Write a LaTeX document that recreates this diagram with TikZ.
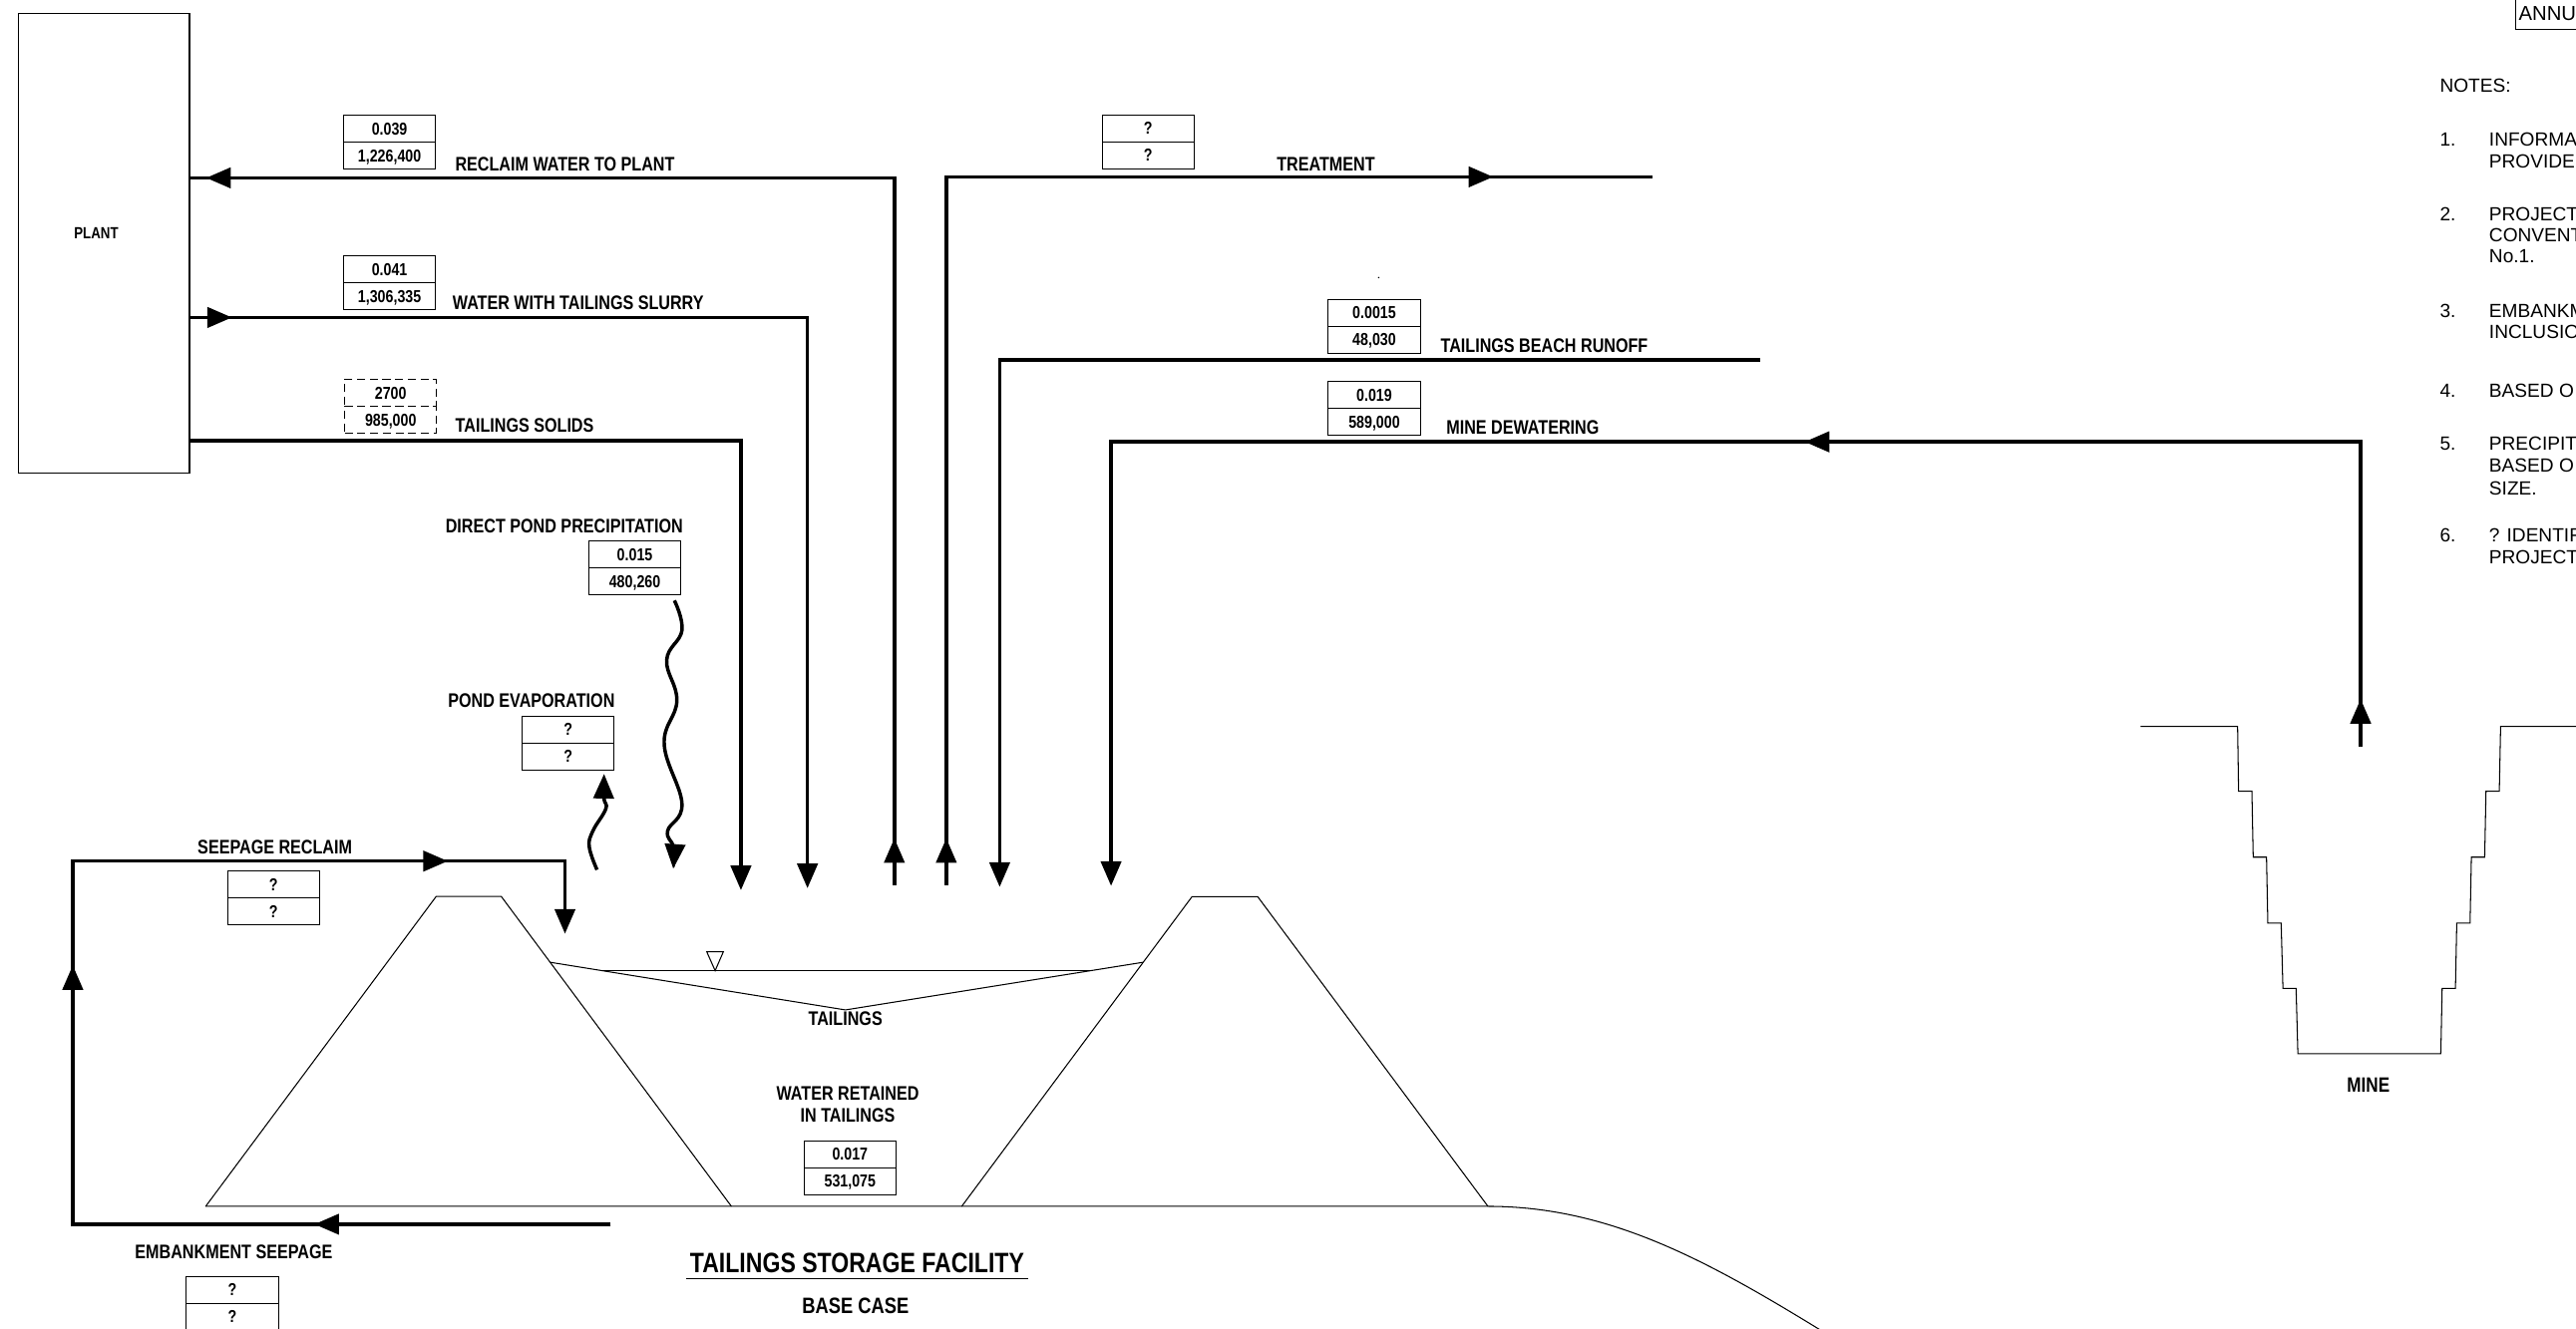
\documentclass[tikz,border=0pt]{standalone}
\usepackage{fontspec}
\setmainfont{Liberation Sans}
\newfontfamily\narrowfont{Liberation Sans Bold}[FakeStretch=0.82]
\usetikzlibrary{positioning,arrows.meta}

\tikzset{
  fhead/.tip={Triangle[length=21.3pt,width=17.5pt]},
  flow/.style={line width=3pt},
  thinline/.style={line width=0.9pt},
  lbl/.style={font=\narrowfont\fontsize{17}{19.8}\selectfont, inner sep=0pt},
  cell/.style={draw, line width=0.9pt, minimum width=79.7pt, minimum height=23.3pt,
    inner sep=0pt, outer sep=0pt, text height=10.7pt, text depth=0pt,
    font=\narrowfont\fontsize{15}{18}\selectfont},
  note/.style={font=\fontsize{16.5}{18.5}\selectfont, inner sep=0pt, anchor=base west},
}

\begin{document}
\begin{tikzpicture}[x=0.05cm, y=-0.05cm]
  \newcommand{\flowbox}[5][]{%
    \node[cell,#1,anchor=north west] (#2top) at (#3) {#4};
    \node[cell,#1,below=0pt of #2top] (#2bot) {#5};}
  \useasboundingbox (0,0) rectangle (1568,808.6);

  % plant
  \node[draw, thinline, anchor=north west, minimum width=147.7pt, minimum height=398.5pt, inner sep=0pt] (plant) at (11.2,7.7) {};
  \node[lbl, font=\narrowfont\fontsize{14}{16}\selectfont] (plantname) at (58.6,141.7) {PLANT};

  % dams and pond
  \draw[thinline] (125.2,734.5) -- (265.5,545.8) -- (305.1,545.8) -- (445.2,734.5);
  \draw[thinline] (585.4,734.5) -- (725.6,545.9) -- (765.5,545.9) -- (905.7,734.5);
  \draw[thinline] (125.2,734.5) -- (905.7,734.5) .. controls (980,734.5) and (1040,768) .. (1110,811);
  \draw[thinline] (334.9,585.9) -- (514.6,614.9) -- (695.8,585.9);
  \draw[thinline] (366.8,591) -- (663.6,591);
  \draw[thinline] (430.2,579.5) -- (440.3,579.5) -- (435.3,591) -- cycle;

  % mine pit
  \draw[thinline] (1302.9,442.3) -- (1362,442.3) -- (1362.6,481.7) -- (1370.7,481.7)
    -- (1371.5,521.9) -- (1379.6,521.9) -- (1380.4,562) -- (1388.5,562)
    -- (1389.6,601.8) -- (1397.6,601.8) -- (1398.7,641.6) -- (1485.7,641.6)
    -- (1486.5,601.8) -- (1494.6,601.8) -- (1495.4,562) -- (1503.5,562)
    -- (1504.3,521.9) -- (1512.4,521.9) -- (1513.2,481.7) -- (1521.3,481.7)
    -- (1522.1,442.3) -- (1570,442.3);
  \node[lbl, font=\narrowfont\fontsize{18}{20}\selectfont] (mine) at (1441.6,660.4) {MINE};

  % reclaim water to plant
  \coordinate (rwA) at (544.4,538.8);
  \coordinate (rwB) at (544.4,108.3);
  \coordinate (rwUp) at (544.4,510.4);
  \coordinate (rwLeft) at (125.5,108.3);
  \draw[flow] (rwA) -- (rwB) -- (plant.east |- rwB);
  \draw[flow,-fhead] (rwA) -- (rwUp);
  \draw[flow,-fhead] (rwB) -- (rwLeft);

  % water with tailings slurry
  \coordinate (wsA) at (491.5,193.3);
  \coordinate (wsB) at (491.5,540.8);
  \coordinate (wsRight) at (141.2,193.3);
  \draw[flow,-fhead] (plant.east |- wsA) -- (wsA) -- (wsB);
  \draw[flow,-fhead] (plant.east |- wsA) -- (wsRight);

  % tailings solids
  \coordinate (tsA) at (451,268.4);
  \coordinate (tsB) at (451,542);
  \draw[flow,-fhead] (plant.east |- tsA) -- (tsA) -- (tsB);

  % treatment
  \coordinate (trA) at (576,538.8);
  \coordinate (trB) at (576,107.7);
  \coordinate (trC) at (1005.8,107.7);
  \coordinate (trUp) at (576,510.4);
  \coordinate (trRight) at (908.9,107.7);
  \draw[flow] (trA) -- (trB) -- (trC);
  \draw[flow,-fhead] (trA) -- (trUp);
  \draw[flow,-fhead] (trB) -- (trRight);

  % tailings beach runoff
  \coordinate (brA) at (1071.3,219.2);
  \coordinate (brB) at (608.5,219.2);
  \coordinate (brC) at (608.5,540);
  \draw[flow,-fhead] (brA) -- (brB) -- (brC);

  % mine dewatering
  \coordinate (mdA) at (1436.9,454.8);
  \coordinate (mdB) at (1436.9,269);
  \coordinate (mdC) at (676.3,269);
  \coordinate (mdD) at (676.3,539.4);
  \coordinate (mdUp) at (1436.9,425.6);
  \coordinate (mdLeft) at (1098.5,269);
  \draw[flow,-fhead] (mdA) -- (mdB) -- (mdC) -- (mdD);
  \draw[flow,-fhead] (mdA) -- (mdUp);
  \draw[flow,-fhead] (mdB) -- (mdLeft);

  % embankment seepage and seepage reclaim
  \coordinate (esA) at (371.7,745.4);
  \coordinate (esB) at (44.3,745.4);
  \coordinate (srA) at (44.3,524.3);
  \coordinate (srB) at (343.9,524.3);
  \coordinate (srC) at (343.9,568.5);
  \coordinate (esLeft) at (191.4,745.4);
  \coordinate (srUp) at (44.3,587.7);
  \coordinate (srRight) at (272.6,524.3);
  \draw[flow,-fhead] (esA) -- (esB) -- (srA) -- (srB) -- (srC);
  \draw[flow,-fhead] (esA) -- (esLeft);
  \draw[flow,-fhead] (esB) -- (srUp);
  \draw[flow,-fhead] (srA) -- (srRight);

  % precipitation and evaporation
  \draw[flow,-fhead] plot[smooth, tension=0.7] coordinates {(410.5,365.6) (415.1,383.8) (405.8,401.9) (412,426.7) (404.3,453.1) (415.1,489.4) (406.4,505.9) (409.8,515.7) (409.8,528.9)};
  \draw[flow,-fhead] plot[smooth, tension=0.7] coordinates {(363.4,529.6) (358.7,515.7) (360.9,505.9) (368.7,492.6) (367.7,486) (367.7,471.2)};

  % value boxes
  \flowbox{rw}{209.1,70.4}{0.039}{1,226,400}
  \flowbox{ws}{209.1,155.8}{0.041}{1,306,335}
  \flowbox[dash pattern=on 7pt off 4pt]{ts}{209.8,230.9}{2700}{985,000}
  \flowbox{tr}{670.8,69.9}{?}{?}
  \flowbox{br}{808.5,182.2}{0.0015}{48,030}
  \flowbox{md}{808.5,232.2}{0.019}{589,000}
  \flowbox{pp}{358.4,329.3}{0.015}{480,260}
  \flowbox{pe}{317.8,435.9}{?}{?}
  \flowbox{sr}{138.5,530.3}{?}{?}
  \flowbox{es}{113.4,777.1}{?}{?}
  \flowbox{wr}{489.4,694.6}{0.017}{531,075}
  \fill (839.2,169) circle (0.5);

  % flow names
  \node[lbl, anchor=west] (rwname) at (277,100.2) {RECLAIM WATER TO PLANT};
  \node[lbl, anchor=west] (wsname) at (275.4,184.6) {WATER WITH TAILINGS SLURRY};
  \node[lbl, anchor=west] (tsname) at (277.1,259.1) {TAILINGS SOLIDS};
  \node[lbl, anchor=west] (trname) at (777.1,99.8) {TREATMENT};
  \node[lbl, anchor=west] (brname) at (876.8,210.5) {TAILINGS BEACH RUNOFF};
  \node[lbl, anchor=west] (mdname) at (880.3,260.5) {MINE DEWATERING};
  \node[lbl, anchor=west] (ppname) at (271.1,320.4) {DIRECT POND PRECIPITATION};
  \node[lbl, anchor=west] (pename) at (272.6,426.7) {POND EVAPORATION};
  \node[lbl, anchor=west] (srname) at (120.2,515.7) {SEEPAGE RECLAIM};
  \node[lbl, anchor=west] (esname) at (82.1,762.5) {EMBANKMENT SEEPAGE};
  \node[lbl] (tailname) at (514.6,620.3) {TAILINGS};
  \node[lbl, align=center] (wrname) at (516,672.5) {WATER RETAINED\\IN TAILINGS};

  % title
  \node[font=\narrowfont\fontsize{24.3}{28}\selectfont, inner xsep=3.2pt, inner ysep=4.6pt, anchor=base] (tsf) at (521.7,774.9) {TAILINGS STORAGE FACILITY};
  \draw[line width=1.2pt] (tsf.south west) -- (tsf.south east);
  \node[lbl, font=\narrowfont\fontsize{19.3}{22}\selectfont] (basecase) at (520.8,795.4) {BASE CASE};

  % notes
  \draw[thinline] (1531,-2) -- (1531,17.8) -- (1570,17.8);
  \node[note, font=\fontsize{17.5}{20}\selectfont] (annu) at (1533,12.5) {ANNU};
  \node[note] (notes) at (1485,56.2) {NOTES:};
  \foreach \ny/\nn in {89.2/1., 134.2/2., 193.2/3., 242.2/4., 274.2/5., 330.2/6.}
    \node[note] (num\nn) at (1485,\ny) {\nn};
  \foreach \ny/\nt [count=\i] in {89.2/INFORMA, 102.2/PROVIDE, 134.2/PROJECT, 147.2/CONVENT, 160.2/No.1., 193.2/EMBANKM, 206.2/INCLUSIO, 242.2/BASED O, 274.2/PRECIPIT, 287.2/BASED O, 301.2/SIZE., 330.2/? IDENTIF, 343.2/PROJECT}
    \node[note] (note\i) at (1515,\ny) {\nt};
\end{tikzpicture}
\end{document}
